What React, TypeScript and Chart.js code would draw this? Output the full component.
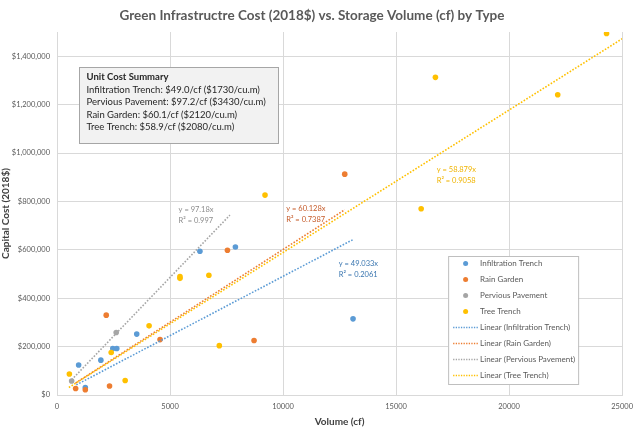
import { useEffect, useRef } from 'react';
import { Chart, registerables } from 'chart.js';

Chart.register(...registerables);

const FONT = 'Lato, "Open Sans", sans-serif';

// data (volume cf, cost 2018$)
const infiltrationX = [957, 1252, 1940, 2469, 2645, 3527, 6322, 7892, 13096];
const infiltrationY = [123700, 31000, 144000, 192000, 192000, 251600, 594000, 611600, 314700];

const rainGardenX = [824, 1252, 2178, 2324, 4559, 7540, 8717, 12729];
const rainGardenY = [27000, 21900, 330000, 37000, 229000, 598000, 225000, 912600];

const perviousX = [648, 2619];
const perviousY = [57700, 258000];

const treeTrenchX = [547, 2398, 3016, 4074, 5440, 5440, 6719, 7180, 9202, 16110, 16741, 22151, 24311];
const treeTrenchY = [86600, 175700, 60000, 285800, 489000, 482000, 495000, 204000, 826000, 769600, 1312700, 1241000, 1494000];

const seriesNames = ['Infiltration Trench', 'Rain Garden', 'Pervious Pavement', 'Tree Trench'];
const seriesColors = ['#5b9bd5', '#ed7d31', '#a5a5a5', '#ffc000'];

const xTicks = [0, 5000, 10000, 15000, 20000, 25000];
const yTicks = [0, 200000, 400000, 600000, 800000, 1000000, 1200000, 1400000];

// linear trendlines through the origin
const trendSlopes = [49.033, 60.128, 97.18, 58.879];
const trendR2 = ['0.2061', '0.7387', '0.997', '0.9058'];
const trendStartX = [855, 824, 648, 525];
const trendEndX = [13096, 12729, 7650, 25000];
const trendLabelX = [12464, 10141, 5379, 16798];
const trendLabelY = [544000, 769500, 767000, 932000];
const trendLabelColors = ['#3a76b0', '#c55a28', '#8c8c8c', '#f0b400'];

const summaryTitle = 'Unit Cost Summary';
const summaryLines = [
  'Infiltration Trench: $49.0/cf ($1730/cu.m)',
  'Pervious Pavement: $97.2/cf ($3430/cu.m)',
  'Rain Garden: $60.1/cf ($2120/cu.m)',
  'Tree Trench: $58.9/cf ($2080/cu.m)',
];

const toPoints = (xs: number[], ys: number[]) => xs.map((x, i) => ({ x, y: ys[i] }));

const overlayPlugin = {
  id: 'overlay',
  afterDatasetsDraw(chart: any) {
    const { ctx, chartArea, scales } = chart;
    const xs = scales.x;
    const ys = scales.y;
    ctx.save();

    // trendline equations
    ctx.font = `7.5px ${FONT}`;
    ctx.textBaseline = 'middle';
    ctx.textAlign = 'left';
    trendLabelX.forEach((lx, i) => {
      const px = xs.getPixelForValue(lx);
      const py = ys.getPixelForValue(trendLabelY[i]);
      ctx.fillStyle = trendLabelColors[i];
      ctx.fillText(`y = ${trendSlopes[i]}x`, px, py);
      ctx.fillText(`R² = ${trendR2[i]}`, px, py + 11);
    });

    // unit cost summary box
    const bx = chartArea.left + 22;
    const by = chartArea.top + 35;
    ctx.fillStyle = '#f2f2f2';
    ctx.fillRect(bx, by, 199, 76);
    ctx.strokeStyle = '#a6a6a6';
    ctx.lineWidth = 1;
    ctx.strokeRect(bx + 0.5, by + 0.5, 199, 76);
    ctx.fillStyle = '#262626';
    ctx.font = `bold 9.5px ${FONT}`;
    ctx.fillText(summaryTitle, bx + 7.5, by + 10);
    ctx.font = `9.5px ${FONT}`;
    summaryLines.forEach((line, i) => {
      ctx.fillText(line, bx + 7.5, by + 22.8 + i * 12.5);
    });

    // legend box
    const lx = chartArea.right - 174;
    const ly = chartArea.top + 224;
    ctx.fillStyle = '#ffffff';
    ctx.fillRect(lx, ly, 130, 128);
    ctx.strokeStyle = '#bfbfbf';
    ctx.strokeRect(lx + 0.5, ly + 0.5, 130, 128);
    ctx.font = `8px ${FONT}`;
    seriesNames.forEach((name, i) => {
      const ry = ly + 7.5 + i * 16;
      ctx.fillStyle = seriesColors[i];
      ctx.beginPath();
      ctx.arc(lx + 17.5, ry, 2.5, 0, Math.PI * 2);
      ctx.fill();
      ctx.fillStyle = '#595959';
      ctx.fillText(name, lx + 32, ry);
    });
    seriesNames.forEach((name, i) => {
      const ry = ly + 7.5 + (i + 4) * 16;
      ctx.strokeStyle = seriesColors[i];
      ctx.lineWidth = 1.3;
      ctx.setLineDash([1.3, 1.3]);
      ctx.beginPath();
      ctx.moveTo(lx + 5, ry);
      ctx.lineTo(lx + 31, ry);
      ctx.stroke();
      ctx.setLineDash([]);
      ctx.fillStyle = '#595959';
      ctx.fillText(`Linear (${name})`, lx + 32, ry);
    });

    ctx.restore();
  },
};

export default function App() {
  const chartRef = useRef<HTMLCanvasElement>(null);
  const chartInstance = useRef<Chart | null>(null);

  useEffect(() => {
    if (!chartRef.current) return;
    if (chartInstance.current) chartInstance.current.destroy();

    const seriesX = [infiltrationX, rainGardenX, perviousX, treeTrenchX];
    const seriesY = [infiltrationY, rainGardenY, perviousY, treeTrenchY];

    const pointSets = seriesNames.map((name, i) => ({
      type: 'scatter' as const,
      label: name,
      data: toPoints(seriesX[i], seriesY[i]),
      backgroundColor: seriesColors[i],
      borderColor: seriesColors[i],
      pointRadius: 2.8,
      pointBorderWidth: 0,
      order: 10 - i,
    }));

    const trendSets = seriesNames.map((name, i) => ({
      type: 'line' as const,
      label: `Linear (${name})`,
      data: [
        { x: trendStartX[i], y: trendSlopes[i] * trendStartX[i] },
        { x: trendEndX[i], y: trendSlopes[i] * trendEndX[i] },
      ],
      borderColor: seriesColors[i],
      borderWidth: 1.6,
      borderDash: [1.6, 1.6],
      pointRadius: 0,
      fill: false,
      order: 4 - i,
    }));

    const ctx = chartRef.current.getContext('2d');
    if (!ctx) return;

    chartInstance.current = new Chart(ctx, {
      type: 'scatter',
      data: { datasets: [...pointSets, ...trendSets] as any },
      options: {
        responsive: true,
        maintainAspectRatio: false,
        animation: false,
        layout: { padding: { left: 0, right: 16, top: 0, bottom: 0 } },
        plugins: {
          legend: { display: false },
          tooltip: { enabled: false },
          title: {
            display: true,
            text: 'Green Infrastructre Cost (2018$) vs. Storage Volume (cf) by Type',
            color: '#595959',
            font: { family: FONT, size: 13.5, weight: 'bold' },
            padding: { top: 8, bottom: 7.8 },
          },
        },
        scales: {
          x: {
            type: 'linear',
            min: 0,
            max: 25000,
            afterFit: (s: any) => { s.height = 34; },
            afterBuildTicks: (s: any) => { s.ticks = xTicks.map((value) => ({ value })); },
            grid: { color: '#d9d9d9', drawTicks: false },
            border: { color: '#d9d9d9' },
            ticks: {
              padding: 7,
              color: '#595959',
              font: { family: FONT, size: 7.5 },
              callback: (v: any) => String(v),
            },
            title: {
              display: true,
              text: 'Volume (cf)',
              color: '#404040',
              font: { family: FONT, size: 10, weight: 'bold' },
              padding: { top: 0, bottom: 1.4 },
            },
          },
          y: {
            type: 'linear',
            min: 0,
            max: 1500000,
            afterFit: (s: any) => { s.width = 57; },
            afterBuildTicks: (s: any) => { s.ticks = yTicks.map((value) => ({ value })); },
            grid: { color: '#d9d9d9', drawTicks: false },
            border: { color: '#d9d9d9' },
            ticks: {
              padding: 7,
              color: '#595959',
              font: { family: FONT, size: 7.5 },
              callback: (v: any) => '$' + Number(v).toLocaleString('en-US'),
            },
            title: {
              display: true,
              text: 'Capital Cost (2018$)',
              color: '#404040',
              font: { family: FONT, size: 10, weight: 'bold' },
              padding: { top: 0, bottom: 0 },
            },
          },
        },
      },
      plugins: [overlayPlugin],
    });

    return () => {
      if (chartInstance.current) {
        chartInstance.current.destroy();
        chartInstance.current = null;
      }
    };
  }, []);

  return (
    <div style={{ position: 'fixed', left: 0, top: 0, width: 640, height: 429, background: '#ffffff' }}>
      <canvas ref={chartRef} />
    </div>
  );
}
